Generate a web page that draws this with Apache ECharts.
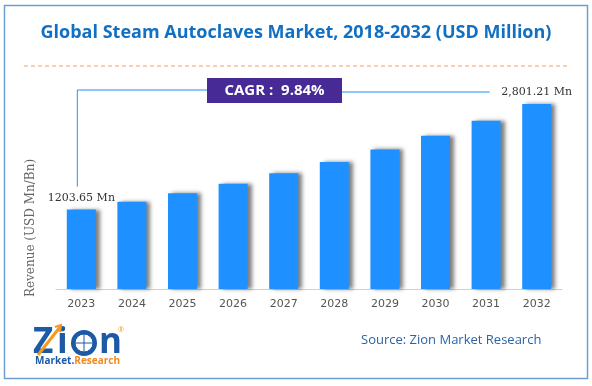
<!DOCTYPE html>
<html>
<head>
<meta charset="utf-8">
<script src="https://cdn.jsdelivr.net/npm/echarts@6/dist/echarts.min.js"></script>
<style>
html,body{margin:0;padding:0;background:#fff;}
#c{width:592px;height:386px;}
</style>
</head>
<body>
<div id="c"></div>
<script>
var years = ['2023','2024','2025','2026','2027','2028','2029','2030','2031','2032'];
var revenue = [1203.65, 1322, 1452, 1595, 1752, 1925, 2114, 2322, 2550, 2801.21];
var labelTexts = ['1203.65 Mn', '', '', '', '', '', '', '', '', '2,801.21 Mn'];
var cagrText = 'CAGR :  9.84%';
var titleText = 'Global Steam Autoclaves Market, 2018-2032 (USD Million)';
var yAxisTitle = 'Revenue (USD Mn/Bn)';
var sourceText = 'Source: Zion Market Research';

var chart = echarts.init(document.getElementById('c'), null, {renderer:'canvas'});
var option = {
  animation: false,
  backgroundColor: '#fff',
  title: {
    text: titleText,
    left: 'center',
    top: 19,
    textStyle: {fontFamily: 'Open Sans', fontWeight: 'bold', fontSize: 18, color: '#1170c4'}
  },
  grid: {left: 56, right: 30, top: 91, bottom: 97},
  xAxis: {
    type: 'category',
    data: years,
    axisLine: {lineStyle: {color: '#d0d0d0', width: 1}},
    axisTick: {show: false},
    axisLabel: {color: '#555', fontSize: 11, fontFamily: 'DejaVu Sans', margin: 10}
  },
  yAxis: {
    type: 'value',
    min: 0, max: 3000,
    axisLine: {show: false}, axisTick: {show: false},
    axisLabel: {show: false}, splitLine: {show: false}
  },
  series: [{
    type: 'bar',
    data: revenue,
    barWidth: 29,
    itemStyle: {
      color: '#1e90ff',
      shadowColor: 'rgba(0,0,0,0.5)', shadowBlur: 4, shadowOffsetX: 4, shadowOffsetY: 0
    },
    label: {
      show: true, position: 'top', distance: 6,
      fontFamily: 'DejaVu Serif', fontSize: 11, color: '#333',
      formatter: function(p){ return labelTexts[p.dataIndex]; }
    }
  }]
};
chart.setOption(option);

var p0 = chart.convertToPixel({seriesIndex:0}, [0, revenue[0]]);
var pN = chart.convertToPixel({seriesIndex:0}, [years.length-1, revenue[revenue.length-1]]);
var lineY = 90;
var boxX = 207, boxW = 135, boxY = 78, boxH = 25;
var logoBlue = '#1c5aa6', logoOrange = '#f39a1e';

chart.setOption({
  graphic: [
    {type:'rect', shape:{x:4.5,y:5.5,width:583,height:373}, style:{fill:'none', stroke:'#6d9fd3', lineWidth:1.5}, z:0},
    {type:'line', shape:{x1:24,y1:66,x2:570,y2:66}, style:{stroke:'#f4a060', lineWidth:1, lineDash:[4,3]}},
    {type:'polyline', shape:{points:[[p0[0]-4, p0[1]-23],[p0[0]-4, lineY],[boxX, lineY]]}, style:{stroke:'#1e90ff', lineWidth:1, fill:'none'}},
    {type:'line', shape:{x1:boxX+boxW, y1:lineY+2, x2:pN[0]-47, y2:lineY+2}, style:{stroke:'#1e90ff', lineWidth:1}},
    {type:'rect', shape:{x:boxX, y:boxY, width:boxW, height:boxH}, style:{fill:'#472a96'}},
    {type:'text', x:boxX+boxW/2, y:boxY+boxH/2, style:{text:cagrText, fill:'#fff', font:'bold 15px "Open Sans"', textAlign:'center', textVerticalAlign:'middle'}},
    {type:'text', x:31, y:228, rotation:Math.PI/2, style:{text:yAxisTitle, fill:'#666', font:'12px "DejaVu Serif"', textAlign:'center', textVerticalAlign:'middle'}},
    {type:'text', x:361, y:340, style:{text:sourceText, fill:'#2a64a8', font:'13px "Open Sans"', textAlign:'left', textVerticalAlign:'middle'}},
    // logo
    {type:'text', x:33, y:343, style:{text:'Z', fill:logoBlue, font:'bold 35px "Open Sans"', textAlign:'left', textVerticalAlign:'middle'}},
    {type:'text', x:57, y:343, style:{text:'i', fill:logoBlue, font:'bold 35px "Open Sans"', textAlign:'left', textVerticalAlign:'middle'}},
    {type:'circle', shape:{cx:84, cy:343, r:13}, style:{fill:logoBlue}},
    {type:'circle', shape:{cx:84, cy:343, r:9}, style:{fill:'#ffffff', stroke:logoBlue, lineWidth:1}},
    {type:'line', shape:{x1:75, y1:343, x2:93, y2:343}, style:{stroke:logoBlue, lineWidth:1}},
    {type:'line', shape:{x1:84, y1:334, x2:84, y2:352}, style:{stroke:logoBlue, lineWidth:1}},
    {type:'text', x:99, y:343, style:{text:'n', fill:logoBlue, font:'bold 35px "Open Sans"', textAlign:'left', textVerticalAlign:'middle'}},
    {type:'polyline', shape:{points:[[38,355],[60,327]]}, style:{stroke:logoOrange, lineWidth:3}},
    {type:'polyline', shape:{points:[[55,327],[61,325],[60,332]]}, style:{stroke:logoOrange, lineWidth:2, fill:'none'}},
    {type:'text', x:118, y:330, style:{text:'®', fill:logoOrange, font:'7px "Open Sans"', textAlign:'left', textVerticalAlign:'middle'}},
    {type:'text', x:35, y:361, style:{rich:{a:{fill:logoBlue, font:'bold 10px "Open Sans"'}, b:{fill:'#f08a1c', font:'bold 10px "Open Sans"'}}, text:'{a|Market.}{b|Research}', textAlign:'left', textVerticalAlign:'middle'}}
  ]
});
</script>
</body>
</html>
